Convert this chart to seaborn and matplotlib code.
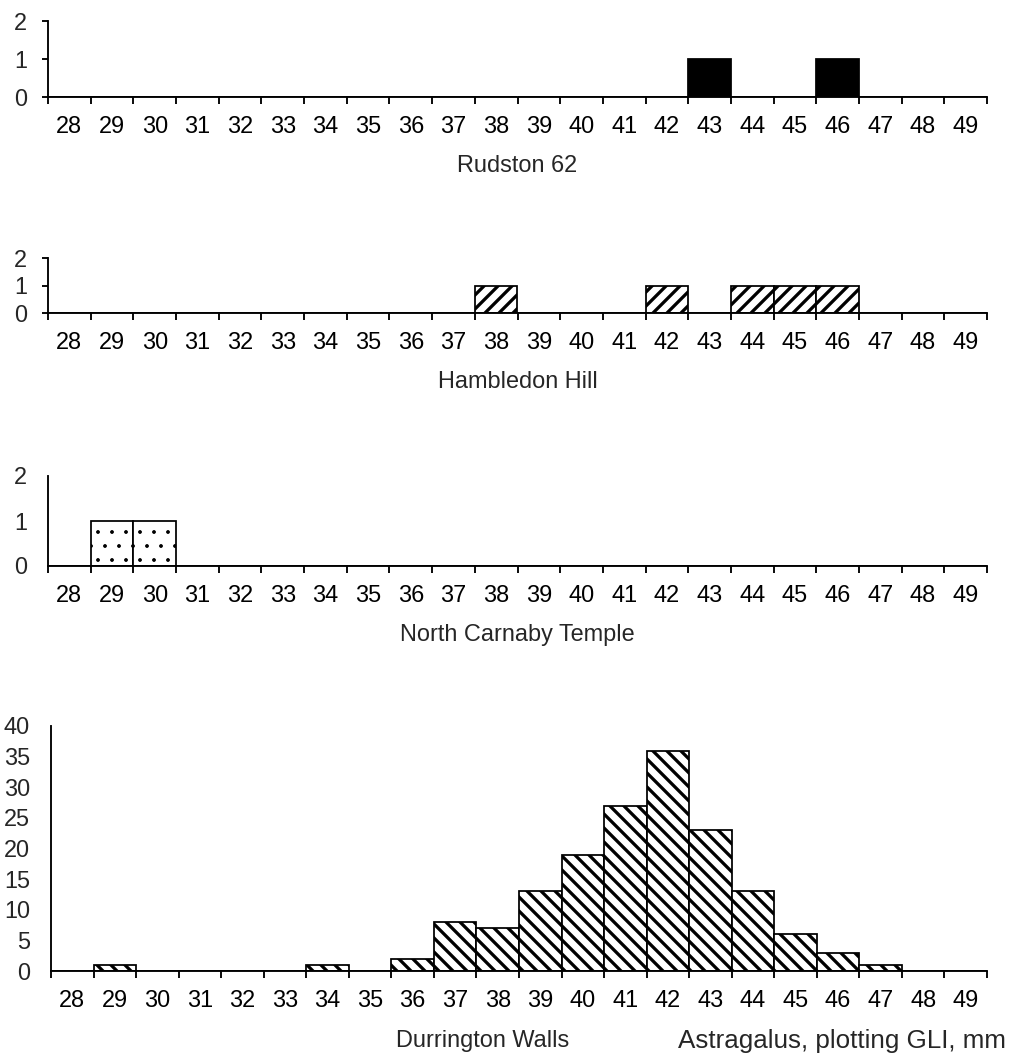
import matplotlib
matplotlib.use("Agg")
import matplotlib.pyplot as plt
import seaborn as sns
import pandas as pd
import numpy as np

# ---- data -------------------------------------------------------------
sizes = ["28", "29", "30", "31", "32", "33", "34", "35", "36", "37", "38",
         "39", "40", "41", "42", "43", "44", "45", "46", "47", "48", "49"]
rudston62 = [0, 0, 0, 0, 0, 0, 0, 0, 0, 0, 0, 0, 0, 0, 0, 1, 0, 0, 1, 0, 0, 0]
hambledon_hill = [0, 0, 0, 0, 0, 0, 0, 0, 0, 0, 1, 0, 0, 0, 1, 0, 1, 1, 1, 0, 0, 0]
north_carnaby = [0, 1, 1, 0, 0, 0, 0, 0, 0, 0, 0, 0, 0, 0, 0, 0, 0, 0, 0, 0, 0, 0]
durrington = [0, 1, 0, 0, 0, 0, 1, 0, 2, 8, 7, 13, 19, 27, 36, 23, 13, 6, 3, 1, 0, 0]
panel_titles = ["Rudston 62", "Hambledon Hill", "North Carnaby Temple", "Durrington Walls"]
x_title = "Astragalus, plotting GLI, mm"

# ---- style ------------------------------------------------------------
sns.set_style("white")
plt.rcParams["font.family"] = ["Liberation Sans", "DejaVu Sans"]
plt.rcParams["axes.linewidth"] = 1.6

W, H, DPI = 1014, 1062, 84
PX = 72.0 / DPI  # points per pixel
FS = 23.5 * PX

fig = plt.figure(figsize=(W / DPI, H / DPI), dpi=DPI)
fig.patch.set_facecolor("white")


def rect(l, r, t, b):
    return [l / W, 1 - b / H, (r - l) / W, (b - t) / H]


panels = [
    dict(vals=rudston62, box=(48, 987, 21, 97), ymax=2, ystep=1,
         face="black", hatch=None, hlw=1.0, yticks_visible=True),
    dict(vals=hambledon_hill, box=(48, 987, 258, 313), ymax=2, ystep=1,
         face="white", hatch="//", hlw=2.8, yticks_visible=True),
    dict(vals=north_carnaby, box=(48, 987, 476, 566), ymax=2, ystep=1,
         face="white", hatch=".", hlw=0.8, yticks_visible=False),
    dict(vals=durrington, box=(51, 987, 726, 971), ymax=40, ystep=5,
         face="white", hatch="\\\\", hlw=2.8, yticks_visible=False),
]

for i, p in enumerate(panels):
    l, r, t, b = p["box"]
    ax = fig.add_axes(rect(l, r, t, b))
    df = pd.DataFrame({"size": sizes, "count": p["vals"]})
    plt.rcParams["hatch.linewidth"] = p["hlw"]
    kw = {}
    if p["hatch"]:
        kw["hatch"] = p["hatch"]
    sns.barplot(data=df, x="size", y="count", order=sizes, ax=ax,
                color=p["face"], edgecolor="black", linewidth=1.6 * PX * 1.1,
                width=1.0, saturation=1, errorbar=None, **kw)
    for patch in ax.patches:
        patch.set_facecolor(p["face"])
        patch.set_edgecolor("black")
        if p["hatch"]:
            patch.set_hatch(p["hatch"])
            if hasattr(patch, "set_hatch_linewidth"):
                patch.set_hatch_linewidth(p["hlw"])
    ax.set_xlim(-0.5, len(sizes) - 0.5)
    ax.set_ylim(0, p["ymax"])
    yt = np.arange(0, p["ymax"] + 0.1, p["ystep"])
    ax.set_yticks(yt)
    ax.set_yticklabels([str(int(v)) for v in yt])
    ax.set_xticks(range(len(sizes)))
    ax.set_xticklabels(sizes)
    ax.set_xticks(np.arange(-0.5, len(sizes), 1.0), minor=True)
    ax.tick_params(axis="x", which="major", length=0, pad=19 * PX, labelsize=FS,
                   colors="black")
    ax.tick_params(axis="x", which="minor", length=7 * PX, width=1.6, direction="out",
                   bottom=True, color="black")
    ax.tick_params(axis="y", which="major", length=6 * PX, width=1.6, direction="out",
                   pad=15 * PX, labelsize=FS, left=True,
                   color="black" if p["yticks_visible"] else "none")
    ax.set_ylabel("")
    ax.set_xlabel(panel_titles[i], fontsize=FS)
    hpx = b - t
    ax.xaxis.set_label_coords(0.5, -69 / hpx)
    ax.xaxis.label.set_va("center")
    sns.despine(ax=ax)
    ax.spines["left"].set_color("black")
    ax.spines["bottom"].set_color("black")
    ax.set_facecolor("none")
    if i == 3:
        ax.xaxis.set_label_coords((483 - l) / (r - l), -70 / hpx)
        ax.text((842 - l) / (r - l), -70 / hpx, x_title, transform=ax.transAxes,
                ha="center", va="center", fontsize=26 * PX)

fig.savefig("out.png", dpi=DPI, facecolor="white")
